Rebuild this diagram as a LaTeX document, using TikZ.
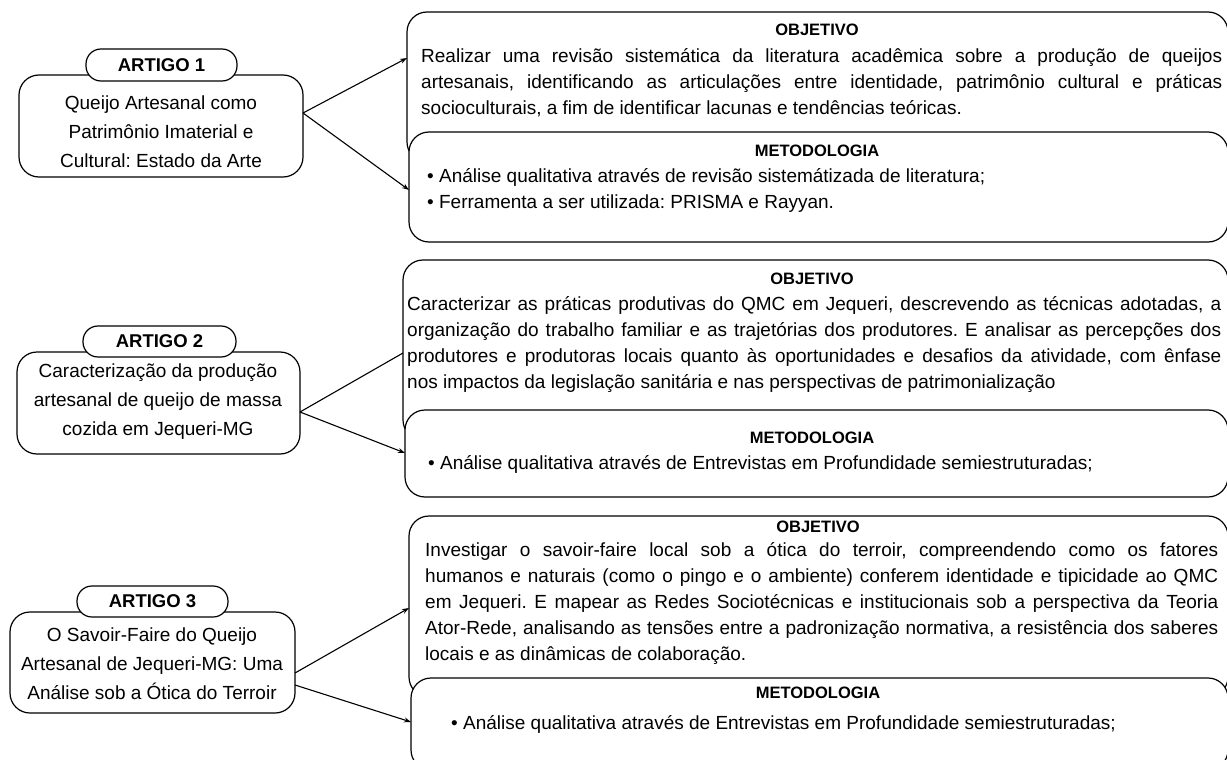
\documentclass[tikz,border=0pt]{standalone}
\usepackage{fontspec}
\setmainfont{Liberation Sans}
\usetikzlibrary{arrows.meta}
\frenchspacing
\begin{document}
\begin{tikzpicture}[x=1pt,y=-1pt,
  lbox/.style={draw, line width=1.2pt, rounded corners=20pt, fill=white, inner sep=0pt, outer sep=0pt, anchor=north west},
  rbox/.style={draw, line width=1.2pt, rounded corners=20pt, fill=white, inner sep=0pt, outer sep=0pt, anchor=north west},
  pill/.style={draw, line width=1.2pt, rounded corners=15pt, fill=white, inner sep=0pt, outer sep=0pt, font=\bfseries\fontsize{18.5}{20}\selectfont},
  ltext/.style={align=center, inner sep=0pt, font=\fontsize{19}{29}\selectfont},
  head/.style={anchor=base, inner sep=0pt, font=\bfseries\fontsize{16.5}{20}\selectfont},
  body/.style={anchor=base west, inner sep=0pt, align=justify, font=\fontsize{19}{26}\selectfont},
  conn/.style={line width=1.1pt, -{Stealth[length=7pt,width=5pt]}},
  plain/.style={line width=1.1pt}
]
\useasboundingbox (0,0) rectangle (1227,760);

% ---------------- Panel 1
\node[rbox, minimum width=821, minimum height=150] (o1) at (407,12) {};
\node[rbox, minimum width=819, minimum height=110] (m1) at (409,132) {};
\node[lbox, minimum width=284, minimum height=102] (a1) at (19,75) {};
\node[pill, minimum width=151, minimum height=32] (p1) at (161.5,65) {ARTIGO 1};
\node[ltext] (a1t) at (161,132) {Queijo Artesanal como\\Patrimônio Imaterial e\\Cultural: Estado da Arte};
\node[head] (o1h) at (817,36) {OBJETIVO};
\node[body, text width=801] (o1t) at (421,63) {Realizar uma revisão sistemática da literatura acadêmica sobre a produção de queijos\linebreak artesanais, identificando as articulações entre identidade, patrimônio cultural e práticas\linebreak socioculturais, a fim de identificar lacunas e tendências teóricas.};
\node[head] (m1h) at (817,156) {METODOLOGIA};
\node[body, text width=780] (m1t) at (427,182) {\textbullet\ Análise qualitativa através de revisão sistemátizada de literatura;\\\textbullet\ Ferramenta a ser utilizada: PRISMA e Rayyan.};
\coordinate (s1) at (303,113);
\coordinate (t1a) at (407,58);
\coordinate (t1b) at (409,190);
\draw[conn] (s1) -- (t1a);
\draw[conn] (s1) -- (t1b);

% ---------------- Panel 2
\node[rbox, minimum width=825, minimum height=180] (o2) at (403,260) {};
\node[rbox, minimum width=823, minimum height=87] (m2) at (405,410) {};
\node[lbox, minimum width=283, minimum height=102] (a2) at (17,352) {};
\node[pill, minimum width=153, minimum height=31] (p2) at (159.5,341.5) {ARTIGO 2};
\node[ltext] (a2t) at (158,402) {Caracterização da produção\\artesanal de queijo de massa\\cozida em Jequeri-MG};
\node[head] (o2h) at (812,284) {OBJETIVO};
\node[body, text width=814] (o2t) at (407,310) {Caracterizar as práticas produtivas do QMC em Jequeri, descrevendo as técnicas adotadas, a\linebreak organização do trabalho familiar e as trajetórias dos produtores. E analisar as percepções dos\linebreak produtores e produtoras locais quanto às oportunidades e desafios da atividade, com ênfase\linebreak nos impactos da legislação sanitária e nas perspectivas de patrimonialização};
\node[head] (m2h) at (812,443) {METODOLOGIA};
\node[body, text width=780] (m2t) at (428,469) {\textbullet\ Análise qualitativa através de Entrevistas em Profundidade semiestruturadas;};
\coordinate (s2) at (300,412);
\coordinate (t2a) at (403,353);
\coordinate (t2b) at (405,453);
\draw[plain] (s2) -- (t2a);
\draw[conn] (s2) -- (t2b);

% ---------------- Panel 3
\node[rbox, minimum width=819, minimum height=181] (o3) at (409,516) {};
\node[rbox, minimum width=817, minimum height=92] (m3) at (411,678) {};
\node[lbox, minimum width=285, minimum height=101] (a3) at (10,612) {};
\node[pill, minimum width=151, minimum height=31] (p3) at (152.5,601.5) {ARTIGO 3};
\node[ltext] (a3t) at (152,664) {O Savoir-Faire do Queijo\\Artesanal de Jequeri-MG: Uma\\Análise sob a Ótica do Terroir};
\node[head] (o3h) at (818,532) {OBJETIVO};
\node[body, text width=793] (o3t) at (425,556) {Investigar o savoir-faire local sob a ótica do terroir, compreendendo como os fatores\linebreak humanos e naturais (como o pingo e o ambiente) conferem identidade e tipicidade ao QMC\linebreak em Jequeri. E mapear as Redes Sociotécnicas e institucionais sob a perspectiva da Teoria\linebreak Ator-Rede, analisando as tensões entre a padronização normativa, a resistência dos saberes\linebreak locais e as dinâmicas de colaboração.};
\node[head] (m3h) at (818,698) {METODOLOGIA};
\node[body, text width=760] (m3t) at (451,729) {\textbullet\ Análise qualitativa através de Entrevistas em Profundidade semiestruturadas;};
\coordinate (s3a) at (295,673);
\coordinate (s3b) at (295,685);
\coordinate (t3a) at (409,608);
\coordinate (t3b) at (411,722);
\draw[conn] (s3a) -- (t3a);
\draw[conn] (s3b) -- (t3b);
\end{tikzpicture}
\end{document}
